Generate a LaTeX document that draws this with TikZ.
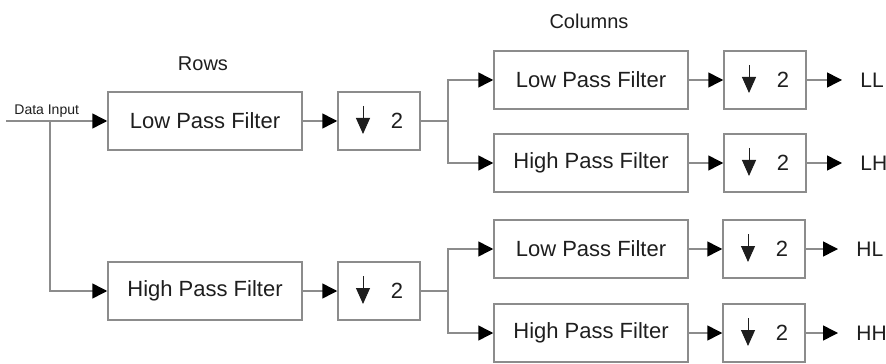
\documentclass[tikz,border=0pt]{standalone}
\usepackage{fontspec}
\setmainfont{Liberation Sans}
\usetikzlibrary{arrows.meta}

\definecolor{wire}{HTML}{8C8C8C}
\definecolor{ink}{HTML}{1E1E1E}

\tikzset{
  filter/.style={draw=wire, line width=0.75pt, minimum width=97pt, minimum height=29pt,
    inner sep=0pt, text=ink, font=\fontsize{11}{13}\selectfont},
  decim/.style={filter, minimum width=41pt, font=\fontsize{11}{13}\selectfont},
  flow/.style={draw=wire, line width=0.75pt, -{Triangle[length=7.5pt,width=7.5pt,fill=black,color=black]}},
  wireline/.style={draw=wire, line width=0.75pt},
  outlabel/.style={anchor=west, inner sep=0pt, text=ink, font=\fontsize{10.5}{12}\selectfont},
  heading/.style={inner sep=0pt, text=ink, font=\fontsize{10}{12}\selectfont}
}

% down arrow inside a decimation box
\newcommand\halfrate[1]{%
  \draw[ink, line width=0.5pt, -{Triangle[length=8pt,width=7pt]}]
    ([xshift=-8pt,yshift=7.5pt]#1.center) -- ([xshift=-8pt,yshift=-6.5pt]#1.center);}

\begin{document}
\begin{tikzpicture}[x=0.5pt, y=-0.5pt]
\useasboundingbox (0,0) rectangle (886,363);

% row stage
\node[heading] (rows) at (203,64) {Rows};
\node[filter] (rl) at (205,121) {Low Pass Filter};
\node[filter] (rh) at (205,291) {High Pass Filter};
\node[decim] (rld) at (379,121) {\hspace*{18pt}2};
\node[decim] (rhd) at (379,291) {\hspace*{18pt}2};

% column stage
\node[heading] (cols) at (589,21) {Columns};
\node[filter] (ll) at (591,80) {Low Pass Filter};
\node[filter] (lh) at (591,163) {High Pass Filter};
\node[filter] (hl) at (591,249) {Low Pass Filter};
\node[filter] (hh) at (591,333) {High Pass Filter};
\node[decim] (lld) at (765,80) {\hspace*{18pt}2};
\node[decim] (lhd) at (765,163) {\hspace*{18pt}2};
\node[decim] (hld) at (764,249) {\hspace*{18pt}2};
\node[decim] (hhd) at (764,333) {\hspace*{18pt}2};

\foreach \d in {rld,rhd,lld,lhd,hld,hhd} {\halfrate{\d}}

% outputs
\node[outlabel] (oll) at (860,80) {LL};
\node[outlabel] (olh) at (860,163) {LH};
\node[outlabel] (ohl) at (856,249) {HL};
\node[outlabel] (ohh) at (856,333) {HH};

% input and split points
\coordinate (din) at (6,121);
\coordinate (dsplit) at (50,121);
\coordinate (lsplit) at (448,121);
\coordinate (hsplit) at (448,291);
\node[anchor=south west, inner sep=0pt, text=ink, font=\fontsize{7}{8}\selectfont]
  (dlabel) at (14,118) {Data Input};

\draw[flow] (din) -- (rl.west);
\draw[flow] (dsplit) |- (rh.west);
\draw[flow] (rl) -- (rld);
\draw[flow] (rh) -- (rhd);

\draw[wireline] (rld.east) -- (lsplit);
\draw[wireline] (rhd.east) -- (hsplit);
\draw[flow] (lsplit) |- (ll.west);
\draw[flow] (lsplit) |- (lh.west);
\draw[flow] (hsplit) |- (hl.west);
\draw[flow] (hsplit) |- (hh.west);

\draw[flow] (ll) -- (lld);
\draw[flow] (lh) -- (lhd);
\draw[flow] (hl) -- (hld);
\draw[flow] (hh) -- (hhd);

\draw[flow] (lld.east) -- ([xshift=-9pt]oll.west);
\draw[flow] (lhd.east) -- ([xshift=-9pt]olh.west);
\draw[flow] (hld.east) -- ([xshift=-9pt]ohl.west);
\draw[flow] (hhd.east) -- ([xshift=-9pt]ohh.west);
\end{tikzpicture}
\end{document}
